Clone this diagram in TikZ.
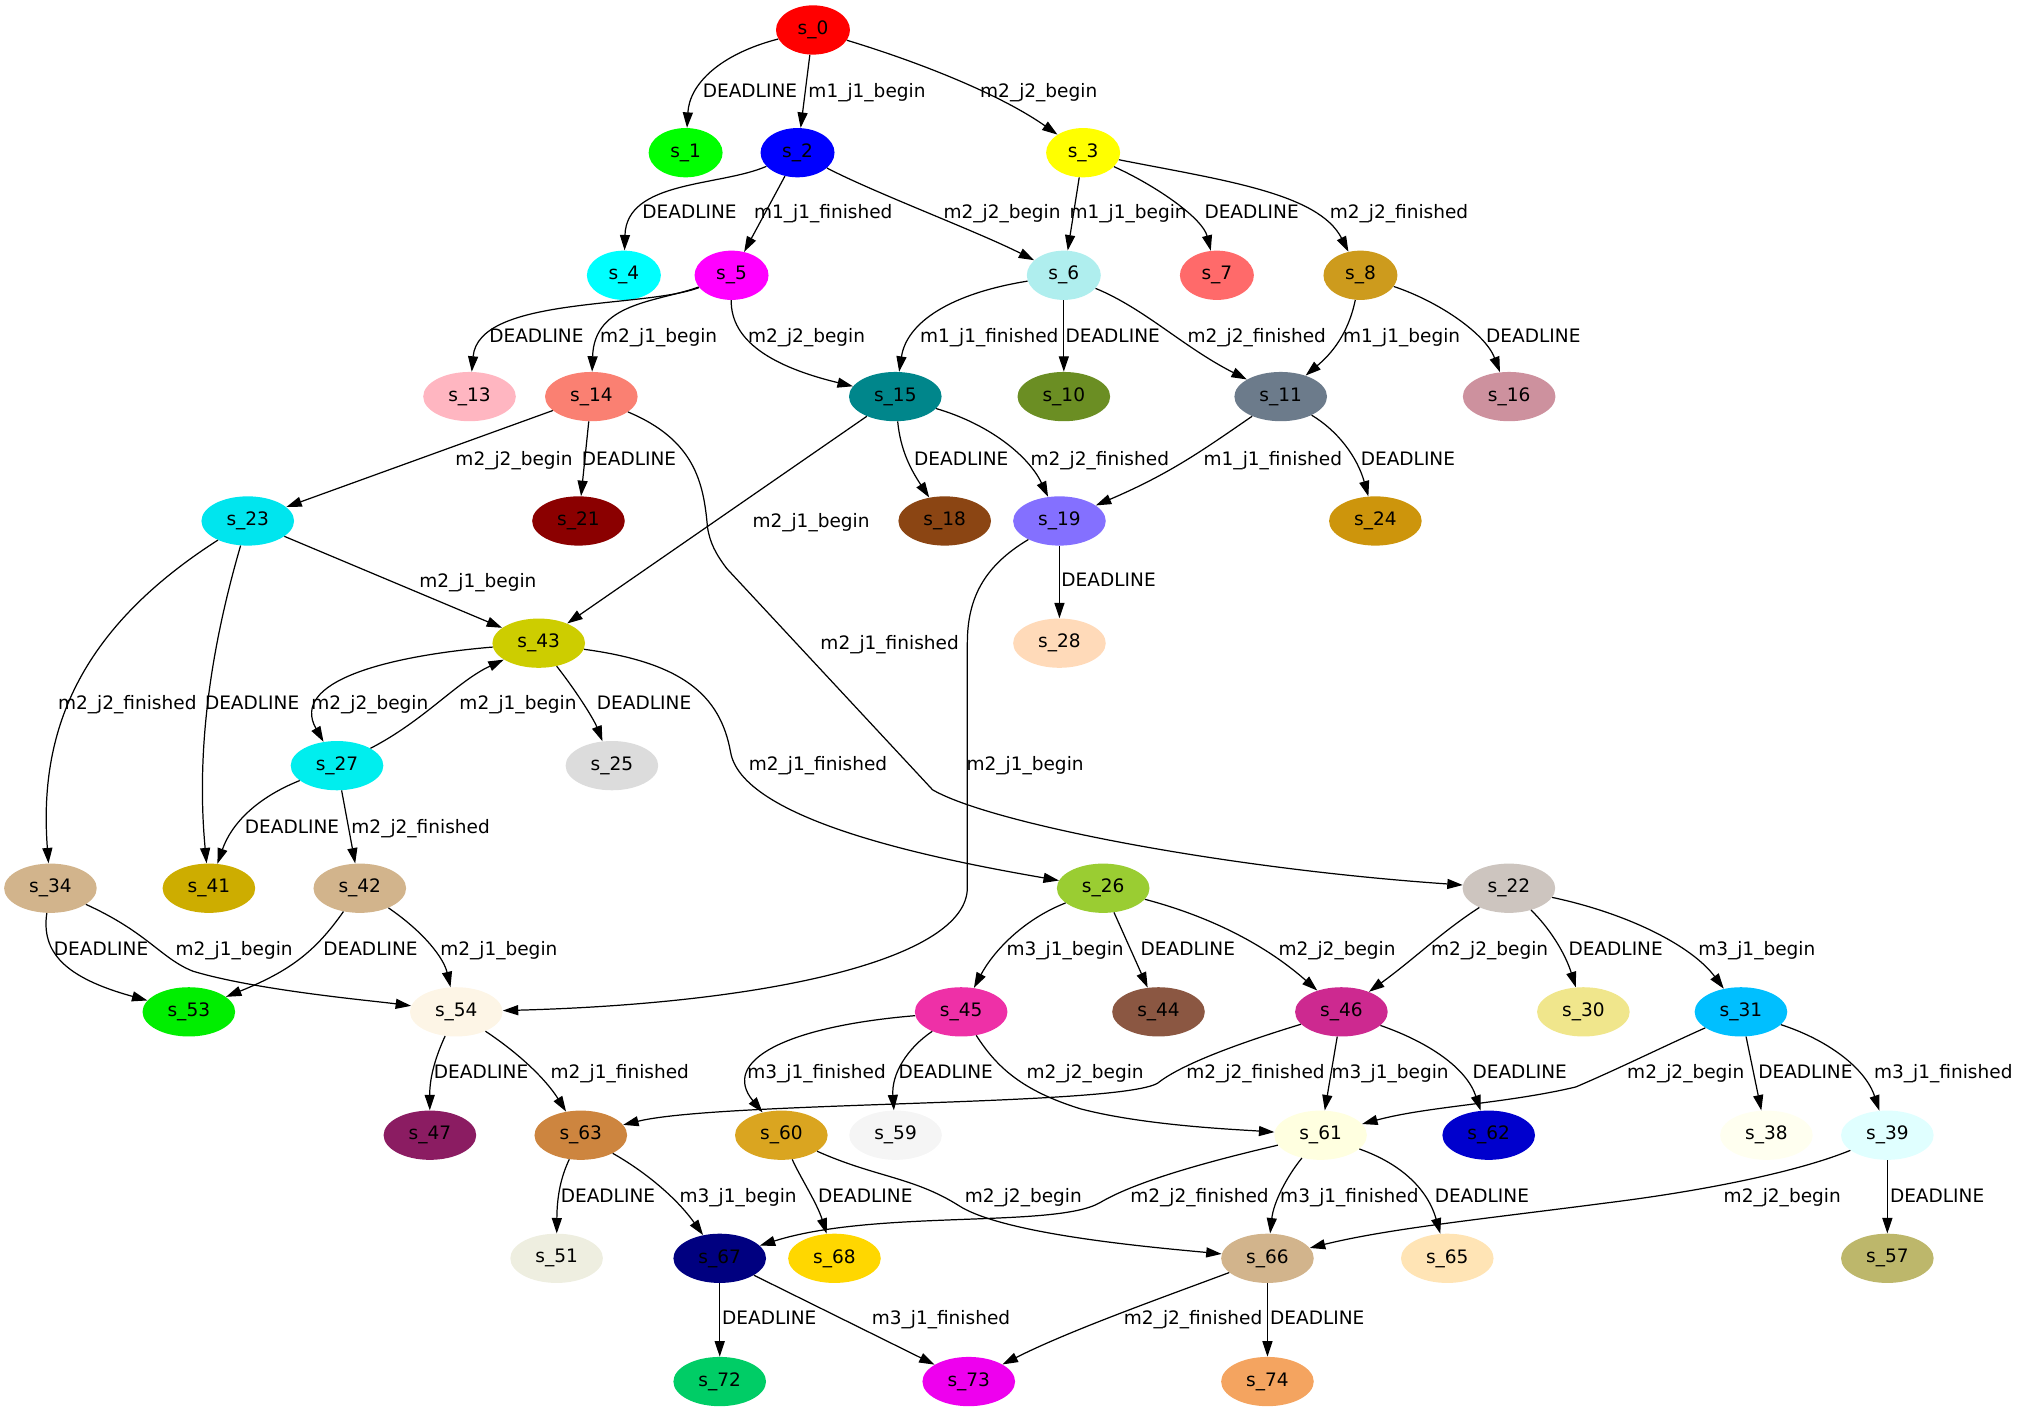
\documentclass[tikz,border=0pt]{standalone}
\usepackage{fontspec}
\setmainfont{DejaVu Sans}
\usetikzlibrary{arrows.meta,shapes.geometric}
\definecolor{c0}{HTML}{FF0000}\definecolor{c1}{HTML}{00FF00}\definecolor{c2}{HTML}{0000FF}
\definecolor{c3}{HTML}{FFFF00}\definecolor{c4}{HTML}{00FFFF}\definecolor{c5}{HTML}{FF00FF}
\definecolor{c6}{HTML}{AFEEEE}\definecolor{c7}{HTML}{FF6A6A}\definecolor{c8}{HTML}{CD9B1D}
\definecolor{c10}{HTML}{6B8E23}\definecolor{c11}{HTML}{6C7B8B}\definecolor{c13}{HTML}{FFB6C1}
\definecolor{c14}{HTML}{FA8072}\definecolor{c15}{HTML}{00868B}\definecolor{c16}{HTML}{CD919E}
\definecolor{c18}{HTML}{8B4513}\definecolor{c19}{HTML}{8470FF}\definecolor{c21}{HTML}{8B0000}
\definecolor{c22}{HTML}{CDC5BF}\definecolor{c23}{HTML}{00E5EE}\definecolor{c24}{HTML}{CD950C}
\definecolor{c25}{HTML}{DCDCDC}\definecolor{c26}{HTML}{9ACD32}\definecolor{c27}{HTML}{00EEEE}
\definecolor{c28}{HTML}{FFDAB9}\definecolor{c30}{HTML}{F0E68C}\definecolor{c31}{HTML}{00BFFF}
\definecolor{c34}{HTML}{D2B48C}\definecolor{c38}{HTML}{FFFFF0}\definecolor{c39}{HTML}{E0FFFF}
\definecolor{c41}{HTML}{CDAD00}\definecolor{c42}{HTML}{D2B48C}\definecolor{c43}{HTML}{CDCD00}
\definecolor{c44}{HTML}{8B5742}\definecolor{c45}{HTML}{EE30A7}\definecolor{c46}{HTML}{CD2990}
\definecolor{c47}{HTML}{8B1C62}\definecolor{c51}{HTML}{EEEEE0}\definecolor{c53}{HTML}{00EE00}
\definecolor{c54}{HTML}{FDF5E6}\definecolor{c57}{HTML}{BDB76B}\definecolor{c59}{HTML}{F5F5F5}
\definecolor{c60}{HTML}{DAA520}\definecolor{c61}{HTML}{FFFFE0}\definecolor{c62}{HTML}{0000CD}
\definecolor{c63}{HTML}{CD853F}\definecolor{c65}{HTML}{FFE4B5}\definecolor{c66}{HTML}{D2B48C}
\definecolor{c67}{HTML}{000080}\definecolor{c68}{HTML}{FFD700}\definecolor{c72}{HTML}{00CD66}
\definecolor{c73}{HTML}{EE00EE}\definecolor{c74}{HTML}{F4A460}
\tikzset{
  st/.style={ellipse, draw=none, inner sep=0pt, minimum width=72pt, minimum height=38.3pt, font=\fontsize{14.4}{17}\selectfont},
  sm/.style={st, minimum width=57.5pt},
  lbl/.style={font=\fontsize{14.4}{17}\selectfont, anchor=base, yshift=-5.2pt, inner sep=0pt},
  ed/.style={-{Triangle[length=12pt,width=7.8pt]}, line width=0.95pt}
}
\begin{document}
\begin{tikzpicture}[x=1pt,y=-1pt]
\useasboundingbox (0,0) rectangle (1568,1097);
% nodes
\node[sm,fill=c0] (n0) at (632,23.3) {s\_0};
\node[sm,fill=c1] (n1) at (533,118.7) {s\_1};
\node[sm,fill=c2] (n2) at (620,118.7) {s\_2};
\node[sm,fill=c3] (n3) at (842,118.7) {s\_3};
\node[sm,fill=c4] (n4) at (485,214) {s\_4};
\node[sm,fill=c5] (n5) at (568.7,214) {s\_5};
\node[sm,fill=c6] (n6) at (827,214) {s\_6};
\node[sm,fill=c7] (n7) at (946,214) {s\_7};
\node[sm,fill=c8] (n8) at (1057.6,214) {s\_8};
\node[st,fill=c13] (n13) at (365,308.3) {s\_13};
\node[st,fill=c14] (n14) at (459.7,308.3) {s\_14};
\node[st,fill=c15] (n15) at (696,308.3) {s\_15};
\node[st,fill=c10] (n10) at (827,308.3) {s\_10};
\node[st,fill=c11] (n11) at (995.6,308.3) {s\_11};
\node[st,fill=c16] (n16) at (1173.2,308.3) {s\_16};
\node[st,fill=c23] (n23) at (192.6,405) {s\_23};
\node[st,fill=c21] (n21) at (449.7,405) {s\_21};
\node[st,fill=c18] (n18) at (734.4,405) {s\_18};
\node[st,fill=c19] (n19) at (823.6,405) {s\_19};
\node[st,fill=c24] (n24) at (1069.2,405) {s\_24};
\node[st,fill=c43] (n43) at (418.8,500) {s\_43};
\node[st,fill=c28] (n28) at (823.6,500) {s\_28};
\node[st,fill=c27] (n27) at (262,595.2) {s\_27};
\node[st,fill=c25] (n25) at (475.7,595.2) {s\_25};
\node[st,fill=c34] (n34) at (39.2,690.5) {s\_34};
\node[st,fill=c41] (n41) at (162.4,690.5) {s\_41};
\node[st,fill=c42] (n42) at (279.7,690.5) {s\_42};
\node[st,fill=c26] (n26) at (857.6,690.5) {s\_26};
\node[st,fill=c22] (n22) at (1173,690.5) {s\_22};
\node[st,fill=c53] (n53) at (146.8,786.6) {s\_53};
\node[st,fill=c54] (n54) at (354.7,786.6) {s\_54};
\node[st,fill=c45] (n45) at (747.2,786.6) {s\_45};
\node[st,fill=c44] (n44) at (900.6,786.6) {s\_44};
\node[st,fill=c46] (n46) at (1042.8,786.6) {s\_46};
\node[st,fill=c30] (n30) at (1230.9,786.6) {s\_30};
\node[st,fill=c31] (n31) at (1353.4,786.6) {s\_31};
\node[st,fill=c47] (n47) at (334.2,882.5) {s\_47};
\node[st,fill=c63] (n63) at (451.5,882.5) {s\_63};
\node[st,fill=c60] (n60) at (607.4,882.5) {s\_60};
\node[st,fill=c59] (n59) at (696.2,882.5) {s\_59};
\node[st,fill=c61] (n61) at (1026.6,882.5) {s\_61};
\node[st,fill=c62] (n62) at (1157.3,882.5) {s\_62};
\node[st,fill=c38] (n38) at (1373.2,882.5) {s\_38};
\node[st,fill=c39] (n39) at (1467.2,882.5) {s\_39};
\node[st,fill=c51] (n51) at (432.7,978.2) {s\_51};
\node[st,fill=c67] (n67) at (559.5,978.2) {s\_67};
\node[st,fill=c68] (n68) at (648.7,978.2) {s\_68};
\node[st,fill=c66] (n66) at (985.3,978.2) {s\_66};
\node[st,fill=c65] (n65) at (1125.1,978.2) {s\_65};
\node[st,fill=c57] (n57) at (1467.2,978.2) {s\_57};
\node[st,fill=c72] (n72) at (559.5,1074) {s\_72};
\node[st,fill=c73] (n73) at (753.1,1074) {s\_73};
\node[st,fill=c74] (n74) at (985.3,1074) {s\_74};
% edges
\draw[ed] (n0) .. controls (560,42) and (536,65) .. (n1);
\draw[ed] (n0) -- (n2);
\draw[ed] (n0) .. controls (720,50) and (780,75) .. (n3);
\draw[ed] (n2) .. controls (560,145) and (487,140) .. (n4);
\draw[ed] (n2) -- (n5);
\draw[ed] (n2) .. controls (680,150) and (760,180) .. (n6);
\draw[ed] (n3) -- (n6);
\draw[ed] (n3) .. controls (900,145) and (935,170) .. (n7);
\draw[ed] (n3) .. controls (950,140) and (1025,150) .. (n8);
\draw[ed] (n5) .. controls (500,240) and (372,230) .. (n13);
\draw[ed] (n5) .. controls (510,235) and (462,235) .. (n14);
\draw[ed] (n5) .. controls (568,265) and (600,285) .. (n15);
\draw[ed] (n6) .. controls (740,228) and (705,250) .. (n15);
\draw[ed] (n6) -- (n10);
\draw[ed] (n6) .. controls (890,240) and (920,270) .. (n11);
\draw[ed] (n8) .. controls (1048,260) and (1035,275) .. (n11);
\draw[ed] (n8) .. controls (1120,235) and (1155,260) .. (n16);
\draw[ed] (n14) -- (n23);
\draw[ed] (n14) -- (n21);
\draw[ed] (n14) .. controls (540,342) and (547,375) .. (550,410) .. controls (552,422) and (556,430) .. (565,442) -- (725,614) .. controls (770,640) and (950,675) .. (n22);
\draw[ed] (n15) -- (n43);
\draw[ed] (n15) .. controls (700,350) and (708,365) .. (n18);
\draw[ed] (n15) .. controls (770,330) and (800,355) .. (n19);
\draw[ed] (n11) .. controls (935,350) and (910,368) .. (n19);
\draw[ed] (n11) .. controls (1040,335) and (1055,355) .. (n24);
\draw[ed] (n19) -- (n28);
\draw[ed] (n19) .. controls (765,440) and (752,465) .. (752,500) -- (752,690) .. controls (752,745) and (600,780) .. (n54);
\draw[ed] (n23) -- (n43);
\draw[ed] (n23) .. controls (60,490) and (30,570) .. (n34);
\draw[ed] (n23) .. controls (165,500) and (152,580) .. (n41);
\draw[ed] (n43) .. controls (300,510) and (225,530) .. (n27);
\draw[ed] (n27) .. controls (330,560) and (355,530) .. (n43);
\draw[ed] (n43) .. controls (450,540) and (462,560) .. (n25);
\draw[ed] (n43) .. controls (530,515) and (560,540) .. (568,585) .. controls (578,640) and (740,670) .. (n26);
\draw[ed] (n27) .. controls (200,620) and (180,640) .. (n41);
\draw[ed] (n27) -- (n42);
\draw[ed] (n34) .. controls (32,740) and (50,760) .. (n53);
\draw[ed] (n34) .. controls (115,725) and (125,745) .. (150,755) .. controls (200,770) and (290,778) .. (n54);
\draw[ed] (n42) .. controls (245,740) and (225,755) .. (n53);
\draw[ed] (n42) .. controls (330,725) and (345,745) .. (n54);
\draw[ed] (n54) .. controls (337,825) and (334,840) .. (n47);
\draw[ed] (n54) .. controls (405,820) and (425,840) .. (n63);
\draw[ed] (n26) .. controls (795,715) and (772,740) .. (n45);
\draw[ed] (n26) -- (n44);
\draw[ed] (n26) .. controls (950,715) and (990,740) .. (n46);
\draw[ed] (n22) .. controls (1120,725) and (1100,745) .. (n46);
\draw[ed] (n22) .. controls (1208,725) and (1218,745) .. (n30);
\draw[ed] (n22) .. controls (1265,710) and (1315,735) .. (n31);
\draw[ed] (n45) .. controls (610,798) and (560,825) .. (n60);
\draw[ed] (n45) .. controls (705,815) and (693,835) .. (n59);
\draw[ed] (n45) .. controls (775,830) and (795,848) .. (840,862) .. controls (890,875) and (960,878) .. (n61);
\draw[ed] (n46) .. controls (950,815) and (915,830) .. (900,842) .. controls (870,860) and (560,856) .. (n63);
\draw[ed] (n46) -- (n61);
\draw[ed] (n46) .. controls (1110,810) and (1140,830) .. (n62);
\draw[ed] (n31) .. controls (1290,815) and (1260,830) .. (1225,845) .. controls (1170,858) and (1110,860) .. (n61);
\draw[ed] (n31) -- (n38);
\draw[ed] (n31) .. controls (1420,808) and (1450,830) .. (n39);
\draw[ed] (n63) .. controls (436,915) and (433,930) .. (n51);
\draw[ed] (n63) .. controls (500,910) and (525,930) .. (n67);
\draw[ed] (n60) .. controls (622,915) and (635,935) .. (n68);
\draw[ed] (n60) .. controls (680,915) and (710,915) .. (745,937) .. controls (780,960) and (900,970) .. (n66);
\draw[ed] (n61) .. controls (930,905) and (880,920) .. (855,935) .. controls (820,955) and (680,940) .. (n67);
\draw[ed] (n61) .. controls (1000,915) and (990,935) .. (n66);
\draw[ed] (n61) .. controls (1090,905) and (1110,925) .. (n65);
\draw[ed] (n39) .. controls (1400,910) and (1330,925) .. (1250,935) .. controls (1150,948) and (1080,955) .. (n66);
\draw[ed] (n39) -- (n57);
\draw[ed] (n67) -- (n72);
\draw[ed] (n67) -- (n73);
\draw[ed] (n66) .. controls (900,1010) and (830,1035) .. (n73);
\draw[ed] (n66) -- (n74);
% labels
\node[lbl] (l01) at (583,70.5) {DEADLINE};
\node[lbl] (l02) at (674,70.5) {m1\_j1\_begin};
\node[lbl] (l03) at (807.5,70.5) {m2\_j2\_begin};
\node[lbl] (l24) at (536,165) {DEADLINE};
\node[lbl] (l25) at (640,165) {m1\_j1\_finished};
\node[lbl] (l26) at (779,165) {m2\_j2\_begin};
\node[lbl] (l36) at (877,165) {m1\_j1\_begin};
\node[lbl] (l37) at (973,165) {DEADLINE};
\node[lbl] (l38) at (1087.6,165) {m2\_j2\_finished};
\node[lbl] (l513) at (417,261) {DEADLINE};
\node[lbl] (l514) at (512,261) {m2\_j1\_begin};
\node[lbl] (l515) at (627,261) {m2\_j2\_begin};
\node[lbl] (l615) at (769,261) {m1\_j1\_finished};
\node[lbl] (l610) at (865,261) {DEADLINE};
\node[lbl] (l611) at (977,261) {m2\_j2\_finished};
\node[lbl] (l811) at (1089.6,261) {m1\_j1\_begin};
\node[lbl] (l816) at (1192,261) {DEADLINE};
\node[lbl] (l1423) at (399.6,357) {m2\_j2\_begin};
\node[lbl] (l1421) at (489,357) {DEADLINE};
\node[lbl] (l1422) at (691.6,499.5) {m2\_j1\_finished};
\node[lbl] (l1543) at (630.5,404.7) {m2\_j1\_begin};
\node[lbl] (l1518) at (747.3,357) {DEADLINE};
\node[lbl] (l1519) at (855,357) {m2\_j2\_finished};
\node[lbl] (l1119) at (989.5,357) {m1\_j1\_finished};
\node[lbl] (l1124) at (1094.5,357) {DEADLINE};
\node[lbl] (l1928) at (861.8,451.1) {DEADLINE};
\node[lbl] (l1954) at (796.9,594.1) {m2\_j1\_begin};
\node[lbl] (l2343) at (371.5,451.6) {m2\_j1\_begin};
\node[lbl] (l2334) at (99,546.7) {m2\_j2\_finished};
\node[lbl] (l2341) at (196,546.7) {DEADLINE};
\node[lbl] (l4327) at (287.5,546.7) {m2\_j2\_begin};
\node[lbl] (l2743) at (402.7,546.7) {m2\_j1\_begin};
\node[lbl] (l4325) at (500.7,546.7) {DEADLINE};
\node[lbl] (l4326) at (635.9,594.1) {m2\_j1\_finished};
\node[lbl] (l2741) at (227,642.6) {DEADLINE};
\node[lbl] (l2742) at (327,642.6) {m2\_j2\_finished};
\node[lbl] (l3453) at (78.6,737.7) {DEADLINE};
\node[lbl] (l3454) at (182,737.7) {m2\_j1\_begin};
\node[lbl] (l4253) at (288,737.7) {DEADLINE};
\node[lbl] (l4254) at (387.8,737.7) {m2\_j1\_begin};
\node[lbl] (l5447) at (374,833.5) {DEADLINE};
\node[lbl] (l5463) at (481.8,833.5) {m2\_j1\_finished};
\node[lbl] (l2645) at (828,737.7) {m3\_j1\_begin};
\node[lbl] (l2644) at (923.4,737.7) {DEADLINE};
\node[lbl] (l2646) at (1039.4,737.7) {m2\_j2\_begin};
\node[lbl] (l2246) at (1158,737.7) {m2\_j2\_begin};
\node[lbl] (l2230) at (1256,737.7) {DEADLINE};
\node[lbl] (l2231) at (1365.7,737.7) {m3\_j1\_begin};
\node[lbl] (l4560) at (634.8,833.5) {m3\_j1\_finished};
\node[lbl] (l4559) at (735.2,833.5) {DEADLINE};
\node[lbl] (l4561) at (843.6,833.5) {m2\_j2\_begin};
\node[lbl] (l4663) at (976,833.5) {m2\_j2\_finished};
\node[lbl] (l4661) at (1080.7,833.5) {m3\_j1\_begin};
\node[lbl] (l4662) at (1181.4,833.5) {DEADLINE};
\node[lbl] (l3161) at (1310.5,833.5) {m2\_j2\_begin};
\node[lbl] (l3138) at (1403.5,833.5) {DEADLINE};
\node[lbl] (l3139) at (1510.7,833.5) {m3\_j1\_finished};
\node[lbl] (l6351) at (472.6,929.6) {DEADLINE};
\node[lbl] (l6367) at (573.8,929.6) {m3\_j1\_begin};
\node[lbl] (l6068) at (672.7,929.6) {DEADLINE};
\node[lbl] (l6066) at (795.5,929.6) {m2\_j2\_begin};
\node[lbl] (l6167) at (932.5,929.6) {m2\_j2\_finished};
\node[lbl] (l6166) at (1049,929.6) {m3\_j1\_finished};
\node[lbl] (l6165) at (1152,929.6) {DEADLINE};
\node[lbl] (l3966) at (1385.5,929.6) {m2\_j2\_begin};
\node[lbl] (l3957) at (1505.9,929.6) {DEADLINE};
\node[lbl] (l6772) at (598,1024.8) {DEADLINE};
\node[lbl] (l6773) at (731.5,1024.8) {m3\_j1\_finished};
\node[lbl] (l6673) at (927.5,1024.8) {m2\_j2\_finished};
\node[lbl] (l6674) at (1024,1024.8) {DEADLINE};
\end{tikzpicture}
\end{document}
